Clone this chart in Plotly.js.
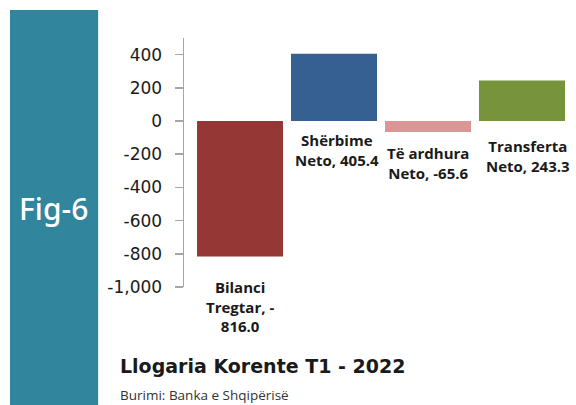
<!DOCTYPE html>
<html>
<head>
<meta charset="utf-8">
<script src="https://cdn.plot.ly/plotly-3.0.1.min.js"></script>
<style>html,body{margin:0;padding:0;background:#fff;}#chart{width:576px;height:405px;}</style>
</head>
<body>
<div id="chart"></div>
<script>
// Data
const categories = ["Bilanci Tregtar", "Shërbime Neto", "Të ardhura Neto", "Transferta Neto"];
const values = [-816.0, 405.4, -65.6, 243.3];
const barColors = ["#953735", "#376092", "#D99694", "#77933C"];
const labelTexts = ["Bilanci<br>Tregtar, -<br>816.0", "Shërbime<br>Neto, 405.4", "Të ardhura<br>Neto, -65.6", "Transferta<br>Neto, 243.3"];
const tickVals = [-1000, -800, -600, -400, -200, 0, 200, 400];
const tickLabels = tickVals.map(v => (v < 0 ? "-" : "") + Math.abs(v).toLocaleString("en-US"));
const titleText = "Llogaria Korente T1 - 2022";
const sourceText = "Burimi: Banka e Shqipërisë";
const figLabel = "Fig-6";

// label placement (styling)
const labelY = [-0.080, 0.552, 0.500, 0.528];
const labelXShift = [0, 3, 0, 6];

const xIdx = categories.map((c, i) => i);

const trace = {
  type: "bar",
  x: xIdx,
  y: values,
  marker: {color: barColors, line: {width: 0}},
  hoverinfo: "skip"
};

const annotations = labelTexts.map((t, i) => ({
  x: xIdx[i], xref: "x", y: labelY[i], yref: "paper",
  text: t, showarrow: false, xanchor: "center", yanchor: "middle",
  xshift: labelXShift[i],
  font: {family: "Open Sans", size: 15, color: "#1a1a1a", weight: 700}
}));

annotations.push({
  x: -0.3377, xref: "paper", y: 0.317, yref: "paper",
  text: figLabel, showarrow: false, xanchor: "center", yanchor: "middle",
  font: {family: "Noto Sans", size: 30, color: "#ffffff", weight: 500}
});
annotations.push({
  x: -0.171, xref: "paper", y: -0.318, yref: "paper",
  text: titleText, showarrow: false, xanchor: "left", yanchor: "middle",
  font: {family: "DejaVu Sans", size: 19, color: "#1a1a1a", weight: 700}
});
annotations.push({
  x: -0.171, xref: "paper", y: -0.432, yref: "paper",
  text: sourceText, showarrow: false, xanchor: "left", yanchor: "middle",
  font: {family: "Open Sans", size: 13.5, color: "#333333"}
});

const layout = {
  width: 576, height: 405,
  margin: {l: 184, r: 7, t: 38, b: 118, pad: 0},
  paper_bgcolor: "#ffffff", plot_bgcolor: "#ffffff",
  showlegend: false,
  bargap: 0.085,
  xaxis: {
    range: [-0.596, 3.5], showline: false, showticklabels: false,
    ticks: "", showgrid: false, zeroline: false, fixedrange: true
  },
  yaxis: {
    range: [-1000, 500], tickvals: tickVals, ticktext: tickLabels,
    showline: true, linecolor: "#a6a6a6", linewidth: 1.5,
    ticks: "outside", ticklen: 8, tickcolor: "#a6a6a6", tickwidth: 1.5,
    showgrid: false, zeroline: false, ticklabelstandoff: 9,
    tickfont: {family: "DejaVu Sans", size: 17, color: "#1a1a1a"},
    fixedrange: true
  },
  shapes: [{
    type: "rect", xref: "paper", yref: "paper",
    x0: -0.452, x1: -0.223, y0: -0.48, y1: 1.1125,
    fillcolor: "#31859C", line: {width: 0}, layer: "below"
  }],
  annotations: annotations
};

Plotly.newPlot("chart", [trace], layout, {displayModeBar: false, staticPlot: true});
</script>
</body>
</html>
